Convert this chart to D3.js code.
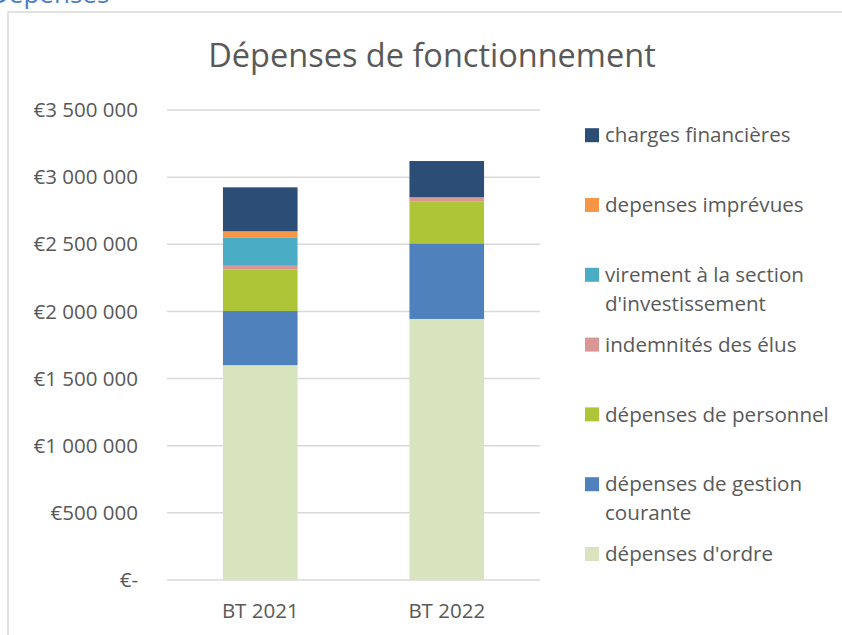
<html>
    <head>
        <script src='https://d3js.org/d3.v7.min.js'></script>
        <style>
            body { margin: 0; background: #fff; }
            text { font-family: 'Open Sans', sans-serif; fill: #595959; }
        </style>
    </head>
    <body>
        <svg width=842 height=635></svg>
        <script>
            // data
            const years = ["BT 2021", "BT 2022"];
            const series = ["dépenses d'ordre", "dépenses de gestion courante", "dépenses de personnel",
                            "indemnités des élus", "virement à la section d'investissement",
                            "depenses imprévues", "charges financières"];
            const ordre     = [1600000, 1944000];
            const gestion   = [403000, 563000];
            const personnel = [311000, 310000];
            const elus      = [26000, 33000];
            const virement  = [212000, 0];
            const imprevues = [45000, 0];
            const charges   = [327000, 270000];
            const yTicks = [0, 500000, 1000000, 1500000, 2000000, 2500000, 3000000, 3500000];
            const colors = ["#d7e4bd", "#4f81bd", "#adc536", "#d99694", "#4bacc6", "#f79646", "#2c4d75"];
            // legend labels, wrapped like the original
            const legendLines = [["dépenses d'ordre"], ["dépenses de gestion", "courante"], ["dépenses de personnel"],
                                 ["indemnités des élus"], ["virement à la section", "d'investissement"],
                                 ["depenses imprévues"], ["charges financières"]];

            const values = [ordre, gestion, personnel, elus, virement, imprevues, charges];
            const table = years.map(function(y, i) {
                const row = {year: y};
                series.forEach(function(s, k) { row[s] = values[k][i]; });
                return row;
            });

            const svg = d3.select("svg");
            const x0 = 167, x1 = 540, yBottom = 580, yTop = 110;

            // frame & cut-off heading above it (the page's section heading)
            svg.append("text")
                .attr("x", -10).attr("y", 3)
                .style("font-size", "26px").style("fill", "#4a7cc7")
                .text("Dépenses");
            svg.append("rect")
                .attr("x", 8).attr("y", 12)
                .attr("width", 900).attr("height", 700)
                .attr("fill", "none").attr("stroke", "#d9d9d9").attr("stroke-width", 1.5);

            const xs = d3.scaleBand().domain(years).range([x0, x1]).paddingInner(0.6).paddingOuter(0.3);
            const ys = d3.scaleLinear().domain([0, 3500000]).range([yBottom, yTop]);

            // gridlines
            svg.append("g")
                .selectAll("line")
                .data(yTicks)
                .enter()
                .append("line")
                .attr("x1", x0).attr("x2", x1)
                .attr("y1", function(d) { return ys(d); })
                .attr("y2", function(d) { return ys(d); })
                .attr("stroke", "#d9d9d9").attr("stroke-width", 1.5);

            // y labels
            const fmt = function(d) {
                if (d === 0) return "€-";
                return "€" + d3.format(",")(d).replace(/,/g, " ");
            };
            svg.append("g")
                .selectAll("text")
                .data(yTicks)
                .enter()
                .append("text")
                .attr("x", 138)
                .attr("y", function(d) { return ys(d); })
                .attr("dy", "0.35em")
                .style("text-anchor", "end")
                .style("font-size", "20.5px")
                .text(fmt);

            // stacked bars
            const stacked = d3.stack().keys(series)(table);
            svg.append("g")
                .selectAll("g")
                .data(stacked)
                .enter()
                .append("g")
                .attr("fill", function(d, i) { return colors[i]; })
                .selectAll("rect")
                .data(function(d) { return d; })
                .enter()
                .append("rect")
                .attr("x", function(d) { return xs(d.data.year); })
                .attr("width", xs.bandwidth())
                .attr("y", function(d) { return ys(d[1]); })
                .attr("height", function(d) { return ys(d[0]) - ys(d[1]); });

            // x labels
            svg.append("g")
                .selectAll("text")
                .data(years)
                .enter()
                .append("text")
                .attr("x", function(d) { return xs(d) + xs.bandwidth() / 2; })
                .attr("y", 618)
                .style("text-anchor", "middle")
                .style("font-size", "20.5px")
                .text(function(d) { return d; });

            // title
            svg.append("text")
                .attr("x", 432).attr("y", 67)
                .style("text-anchor", "middle")
                .style("font-size", "32.5px")
                .text("Dépenses de fonctionnement");

            // legend, top item = last series
            const leg = svg.append("g").attr("class", "legend");
            const legY = function(i) { return 554 - i * 69.8; };
            leg.selectAll("rect")
                .data(series)
                .enter()
                .append("rect")
                .attr("x", 585)
                .attr("y", function(d, i) { return legY(i) - 7; })
                .attr("width", 14).attr("height", 14)
                .attr("fill", function(d, i) { return colors[i]; });
            leg.selectAll("text")
                .data(legendLines)
                .enter()
                .append("text")
                .attr("x", 605)
                .attr("y", function(d, i) { return legY(i); })
                .style("font-size", "20.6px")
                .selectAll("tspan")
                .data(function(d) { return d; })
                .enter()
                .append("tspan")
                .attr("x", 605)
                .attr("dy", function(d, j) { return j === 0 ? "0.35em" : "29px"; })
                .text(function(d) { return d; });
        </script>
    </body>
</html>
